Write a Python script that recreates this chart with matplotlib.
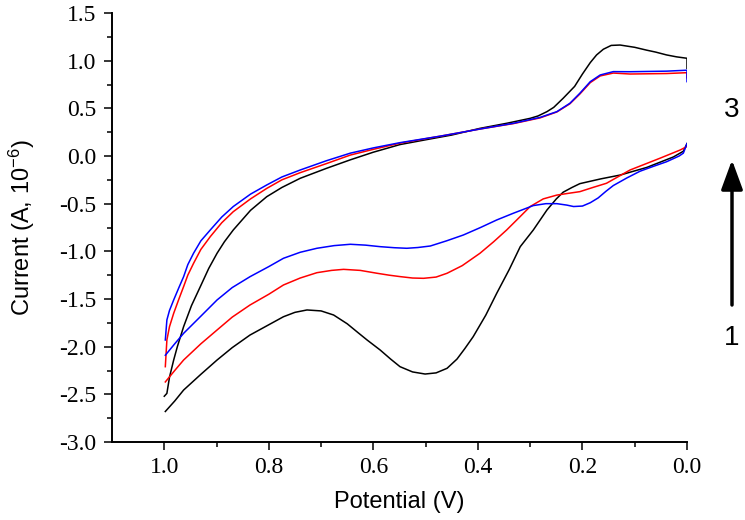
import numpy as np
import matplotlib
matplotlib.use('Agg')
import matplotlib.pyplot as plt
from matplotlib.ticker import MultipleLocator, FixedLocator

plt.rcParams['mathtext.fontset'] = 'custom'
plt.rcParams['mathtext.rm'] = 'Liberation Sans'
plt.rcParams['mathtext.it'] = 'Liberation Sans'
plt.rcParams['mathtext.sf'] = 'Liberation Sans'

# cyclic voltammograms: potential [V], current [uA]
# upper branch (0 -> 1 V) and lower branch (1 -> 0 V) per scan
black_up_E = [0.0, 0.0, 0.02, 0.039, 0.06, 0.077, 0.10, 0.128, 0.145, 0.16, 0.173, 0.185, 0.20, 0.215, 0.237,
              0.255, 0.268, 0.285, 0.300, 0.345, 0.396, 0.45, 0.50, 0.549, 0.60, 0.644, 0.69, 0.740, 0.775,
              0.804, 0.835, 0.868, 0.885, 0.899, 0.915, 0.931, 0.948, 0.963, 0.975, 0.982, 0.99, 0.995, 1.0]
black_up_I = [0.92, 1.025, 1.04, 1.06, 1.09, 1.11, 1.14, 1.164, 1.16, 1.12, 1.06, 0.98, 0.86, 0.73, 0.605,
              0.51, 0.465, 0.42, 0.395, 0.343, 0.29, 0.22, 0.17, 0.12, 0.04, -0.04, -0.13, -0.234, -0.33,
              -0.427, -0.57, -0.776, -0.90, -1.02, -1.18, -1.37, -1.57, -1.79, -2.0, -2.14, -2.32, -2.49, -2.52]
black_dn_E = [0.998, 0.98, 0.963, 0.93, 0.899, 0.87, 0.836, 0.80, 0.772, 0.75, 0.727, 0.70, 0.676, 0.65, 0.63,
              0.612, 0.587, 0.567, 0.549, 0.525, 0.501, 0.48, 0.459, 0.44, 0.425, 0.409, 0.385, 0.364, 0.34,
              0.319, 0.294, 0.268, 0.25, 0.237, 0.22, 0.205, 0.165, 0.128, 0.077, 0.026, 0.007, 0.0]
black_dn_I = [-2.68, -2.57, -2.455, -2.29, -2.14, -2.01, -1.878, -1.77, -1.686, -1.64, -1.615, -1.625, -1.668,
              -1.76, -1.85, -1.93, -2.035, -2.13, -2.21, -2.265, -2.287, -2.275, -2.227, -2.13, -2.02, -1.895,
              -1.67, -1.44, -1.19, -0.951, -0.776, -0.567, -0.45, -0.38, -0.33, -0.29, -0.24, -0.2, -0.12,
              -0.01, 0.05, 0.13]

red_up_E = [0.0, 0.0, 0.039, 0.109, 0.141, 0.166, 0.185, 0.205, 0.224, 0.249, 0.281, 0.332, 0.396, 0.47,
            0.549, 0.60, 0.644, 0.69, 0.740, 0.775, 0.804, 0.835, 0.868, 0.89, 0.912, 0.93, 0.944, 0.955,
            0.963, 0.972, 0.982, 0.99, 0.995, 0.998]
red_up_I = [0.82, 0.874, 0.865, 0.86, 0.87, 0.84, 0.77, 0.65, 0.548, 0.462, 0.40, 0.34, 0.283, 0.21,
            0.135, 0.07, 0.01, -0.08, -0.175, -0.25, -0.34, -0.45, -0.584, -0.70, -0.846, -0.98, -1.126, -1.25,
            -1.37, -1.50, -1.65, -1.79, -1.93, -2.21]
red_dn_E = [0.998, 0.98, 0.963, 0.93, 0.899, 0.87, 0.836, 0.80, 0.772, 0.74, 0.708, 0.68, 0.657, 0.625, 0.593,
            0.57, 0.549, 0.525, 0.504, 0.48, 0.459, 0.43, 0.396, 0.37, 0.345, 0.32, 0.300, 0.275, 0.249,
            0.225, 0.205, 0.18, 0.154, 0.109, 0.052, 0.013, 0.0]
red_dn_I = [-2.37, -2.25, -2.14, -1.97, -1.825, -1.69, -1.563, -1.45, -1.353, -1.28, -1.224, -1.20, -1.189,
            -1.20, -1.23, -1.25, -1.265, -1.28, -1.283, -1.27, -1.23, -1.15, -1.02, -0.90, -0.776, -0.64,
            -0.53, -0.45, -0.41, -0.39, -0.374, -0.33, -0.286, -0.147, -0.024, 0.063, 0.10]

blue_up_E = [0.0, 0.0, 0.039, 0.109, 0.141, 0.166, 0.185, 0.205, 0.224, 0.249, 0.281, 0.332, 0.396, 0.47,
             0.549, 0.60, 0.644, 0.69, 0.740, 0.775, 0.804, 0.835, 0.868, 0.89, 0.912, 0.93, 0.944, 0.955,
             0.963, 0.972, 0.982, 0.99, 0.995, 0.998]
blue_up_I = [0.78, 0.90, 0.89, 0.884, 0.885, 0.85, 0.78, 0.658, 0.553, 0.465, 0.405, 0.343, 0.283, 0.21,
             0.14, 0.085, 0.03, -0.05, -0.147, -0.22, -0.304, -0.40, -0.53, -0.64, -0.776, -0.89, -1.02, -1.14,
             -1.266, -1.38, -1.51, -1.62, -1.72, -1.93]
blue_dn_E = [0.998, 0.98, 0.963, 0.93, 0.899, 0.87, 0.836, 0.80, 0.772, 0.74, 0.708, 0.675, 0.644, 0.615,
             0.587, 0.56, 0.536, 0.515, 0.491, 0.46, 0.428, 0.395, 0.364, 0.332, 0.294, 0.27, 0.249, 0.23,
             0.217, 0.20, 0.185, 0.17, 0.155, 0.141, 0.115, 0.09, 0.065, 0.039, 0.015, 0.007, 0.0]
blue_dn_I = [-2.09, -1.97, -1.86, -1.68, -1.51, -1.38, -1.266, -1.16, -1.073, -1.01, -0.968, -0.94, -0.926,
             -0.935, -0.951, -0.962, -0.968, -0.96, -0.944, -0.89, -0.829, -0.75, -0.671, -0.60, -0.52, -0.50,
             -0.50, -0.515, -0.53, -0.525, -0.49, -0.44, -0.37, -0.31, -0.23, -0.16, -0.11, -0.06, 0.0, 0.03,
             0.13]

fig = plt.figure(figsize=(7.45, 5.2), dpi=100)
ax = fig.add_axes([112/745, 78/520, 575/745, 429/520])

lw = 1.1
ax.plot(black_up_E, black_up_I, color='black', lw=lw)
ax.plot(black_dn_E, black_dn_I, color='black', lw=lw)
ax.plot(red_up_E, red_up_I, color='red', lw=lw)
ax.plot(red_dn_E, red_dn_I, color='red', lw=lw)
ax.plot(blue_up_E, blue_up_I, color='blue', lw=lw)
ax.plot(blue_dn_E, blue_dn_I, color='blue', lw=lw)

ax.set_xlim(1.1, 0.0)
ax.set_ylim(-3.0, 1.5)
ax.spines['top'].set_visible(False)
ax.spines['right'].set_visible(False)
ax.spines['left'].set_linewidth(1.4)
ax.spines['bottom'].set_linewidth(1.4)

ax.set_xticks([1.0, 0.8, 0.6, 0.4, 0.2, 0.0])
ax.xaxis.set_minor_locator(FixedLocator([0.9, 0.7, 0.5, 0.3, 0.1]))
ax.yaxis.set_major_locator(MultipleLocator(0.5))
ax.yaxis.set_minor_locator(MultipleLocator(0.25))
ax.tick_params(which='major', direction='out', length=6, width=1.1, pad=5)
ax.tick_params(which='minor', direction='out', length=3.5, width=1.1)
ax.xaxis.set_major_formatter(plt.FormatStrFormatter('%.1f'))
ax.yaxis.set_major_formatter(plt.FormatStrFormatter('%.1f'))
for lab in ax.get_xticklabels() + ax.get_yticklabels():
    lab.set_fontfamily('Liberation Serif')
    lab.set_fontsize(17)

ax.set_xlabel('Potential (V)', fontfamily='Liberation Sans', fontsize=17)
ax.set_ylabel(r'Current (A, 10$^{-6}$)', fontfamily='Liberation Sans', fontsize=17)
ax.xaxis.set_label_coords(0.5, -0.115)
ax.yaxis.set_label_coords(-0.13, 0.5)

# scan order annotation
fig.text(732/745, 1 - 110/520, '3', fontfamily='Liberation Sans', fontsize=20, ha='center', va='center')
fig.text(732/745, 1 - 338/520, '1', fontfamily='Liberation Sans', fontsize=20, ha='center', va='center')
ax.annotate('', xy=(732/745, 1 - 160/520), xytext=(732/745, 1 - 305/520),
            xycoords='figure fraction', textcoords='figure fraction',
            arrowprops=dict(arrowstyle='-|>,head_length=0.9,head_width=0.33', lw=2.5,
                            color='black', mutation_scale=20, shrinkA=0, shrinkB=0))

fig.savefig('out.png', dpi=100)
